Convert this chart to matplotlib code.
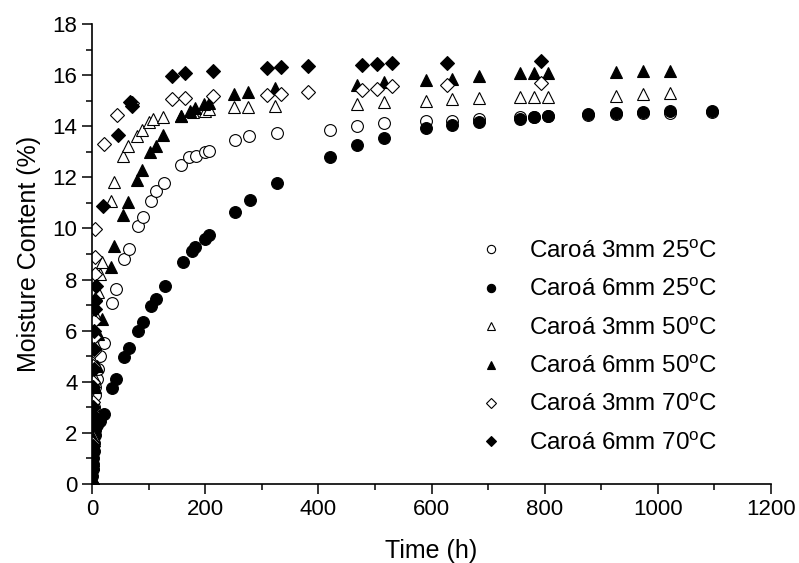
"""
Moisture content vs time, Caroa fibre
"""
import matplotlib.pyplot as plt
from matplotlib.ticker import MultipleLocator

plt.rcParams['font.family'] = ['Liberation Sans', 'DejaVu Sans']

# 3mm 25C (open circles)
t_3_25 = [0, 0.5, 1, 2, 3, 4, 5, 6, 8, 11, 14, 21.7, 36, 42, 57, 66, 82, 91, 104, 113, 127,
          158, 172, 184, 200, 207, 253, 278, 327, 420, 469, 516, 590, 637, 684, 757, 781, 806,
          877, 926, 974, 1022, 1095]
m_3_25 = [0, 0.7, 1.3, 2.0, 2.6, 3.0, 3.5, 3.8, 4.1, 4.5, 5.0, 5.5, 7.07, 7.65, 8.8, 9.2, 10.1,
          10.43, 11.08, 11.47, 11.78, 12.48, 12.78, 12.85, 12.98, 13.04, 13.47, 13.6, 13.73,
          13.86, 14.0, 14.12, 14.21, 14.21, 14.28, 14.35, 14.37, 14.4, 14.45, 14.48, 14.52,
          14.52, 14.55]

# 6mm 25C (filled circles)
t_6_25 = [0, 0.5, 1, 1.5, 2, 3, 4, 5, 6, 8, 14, 21.7, 36, 42, 57, 66, 82, 91, 104, 113, 129,
          160, 176, 182, 200, 207, 252, 279, 327, 420, 469, 516, 590, 637, 684, 757, 781, 806,
          877, 926, 974, 1022, 1095]
m_6_25 = [0, 0.3, 0.6, 0.8, 1.0, 1.3, 1.6, 1.9, 2.1, 2.3, 2.48, 2.74, 3.76, 4.11, 4.96, 5.32,
          6.0, 6.35, 6.95, 7.24, 7.76, 8.67, 9.1, 9.26, 9.59, 9.74, 10.65, 11.12, 11.78, 12.8,
          13.26, 13.52, 13.92, 14.05, 14.15, 14.28, 14.35, 14.39, 14.48, 14.52, 14.57, 14.58,
          14.61]

# 3mm 50C (open triangles)
t_3_50 = [0, 1, 2, 3, 5, 8, 11, 14, 17, 33, 39, 55, 64, 79, 88, 100, 108, 126, 158, 179, 200,
          206, 251, 276, 323, 469, 516, 590, 637, 684, 757, 781, 806, 926, 974, 1022]
m_3_50 = [0, 1.9, 3.0, 4.2, 5.5, 6.5, 7.5, 8.22, 8.67, 11.08, 11.83, 12.85, 13.21, 13.63, 13.87,
          14.15, 14.28, 14.38, 14.41, 14.54, 14.6, 14.67, 14.74, 14.74, 14.8, 14.87, 14.93,
          15.0, 15.06, 15.09, 15.13, 15.13, 15.15, 15.19, 15.25, 15.3]

# 6mm 50C (filled triangles)
t_6_50 = [0, 1, 2, 3, 5, 8, 11, 17, 33, 39, 55, 63, 79, 88, 103, 113, 126, 158, 173, 182, 198,
          206, 251, 276, 323, 468, 516, 590, 637, 684, 757, 781, 806, 926, 974, 1022]
m_6_50 = [0, 0.8, 1.8, 2.8, 3.8, 4.6, 5.87, 6.46, 8.48, 9.32, 10.54, 11.02, 11.9, 12.3, 12.98,
          13.24, 13.65, 14.39, 14.6, 14.7, 14.87, 14.9, 15.26, 15.32, 15.48, 15.61, 15.74,
          15.82, 15.85, 15.95, 16.08, 16.08, 16.08, 16.13, 16.16, 16.17]

# 3mm 70C (open diamonds)
t_3_70 = [0, 0.5, 1, 1.5, 2, 2.5, 3, 3.5, 4, 4.5, 5, 5.5, 6, 21, 45, 70, 142, 165, 213, 310,
          334, 382, 478, 503, 531, 627, 794]
m_3_70 = [0, 1.6, 2.3, 3.2, 4.0, 4.6, 5.2, 5.74, 6.39, 7.2, 8.22, 8.87, 9.98, 13.3, 14.44,
          14.9, 15.06, 15.09, 15.17, 15.22, 15.28, 15.35, 15.41, 15.45, 15.56, 15.62, 15.69]

# 6mm 70C (filled diamonds)
t_6_70 = [0, 0.5, 1, 1.5, 2, 2.5, 3, 3.5, 4, 5, 6, 7, 20, 46, 68, 70, 142, 165, 213, 309, 334,
          382, 478, 503, 531, 627, 794]
m_6_70 = [0, 0.7, 1.5, 2.3, 3.0, 3.8, 4.5, 5.3, 6.0, 6.85, 7.17, 7.76, 10.89, 13.65, 14.93,
          14.8, 15.97, 16.1, 16.17, 16.26, 16.3, 16.34, 16.41, 16.43, 16.46, 16.47, 16.57]

series = [
    (t_3_25, m_3_25, 'o', 'white', 'Caroá 3mm 25$^{\\mathregular{o}}$C'),
    (t_6_25, m_6_25, 'o', 'black', 'Caroá 6mm 25$^{\\mathregular{o}}$C'),
    (t_3_50, m_3_50, '^', 'white', 'Caroá 3mm 50$^{\\mathregular{o}}$C'),
    (t_6_50, m_6_50, '^', 'black', 'Caroá 6mm 50$^{\\mathregular{o}}$C'),
    (t_3_70, m_3_70, 'D', 'white', 'Caroá 3mm 70$^{\\mathregular{o}}$C'),
    (t_6_70, m_6_70, 'D', 'black', 'Caroá 6mm 70$^{\\mathregular{o}}$C'),
]
sizes = {'o': 8.5, '^': 9, 'D': 7}

fig = plt.figure(figsize=(7.99, 5.63), dpi=100)
ax = fig.add_axes([92 / 799, 1 - 484 / 563, 679 / 799, 460 / 563])

for t, m, mk, fc, lab in series:
    ax.plot(t, m, linestyle='none', marker=mk, markersize=sizes[mk], markerfacecolor=fc,
            markeredgecolor='black', markeredgewidth=0.8, label=lab)

ax.set_xlim(0, 1200)
ax.set_ylim(0, 18)
ax.xaxis.set_major_locator(MultipleLocator(200))
ax.xaxis.set_minor_locator(MultipleLocator(100))
ax.yaxis.set_major_locator(MultipleLocator(2))
ax.yaxis.set_minor_locator(MultipleLocator(1))
ax.tick_params(which='major', direction='out', length=7.5, width=1.1, labelsize=16, pad=3)
ax.tick_params(which='minor', direction='out', length=4, width=1.1)
for s in ['top', 'right']:
    ax.spines[s].set_visible(False)
for s in ['left', 'bottom']:
    ax.spines[s].set_linewidth(1.2)

ax.set_xlabel('Time (h)', fontsize=18, labelpad=14)
ax.set_ylabel('Moisture Content (%)', fontsize=18, labelpad=8)

leg = ax.legend(loc='upper left', bbox_to_anchor=(476 / 799, 1 - 240 / 563),
                bbox_transform=fig.transFigure, frameon=False, fontsize=17.4,
                markerscale=0.7, handletextpad=1.0, labelspacing=0.64, handlelength=1.2,
                borderpad=0, borderaxespad=0)

fig.savefig('out.png', dpi=100)
